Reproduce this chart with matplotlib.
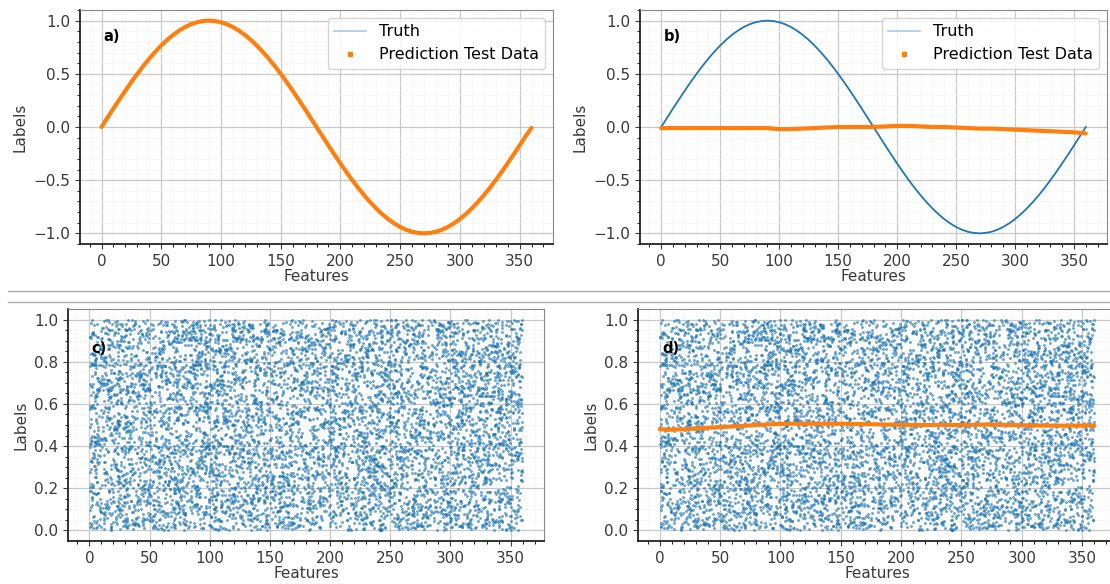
import numpy as np
import matplotlib.pyplot as plt
from matplotlib.lines import Line2D
from matplotlib.ticker import AutoMinorLocator

# feature axis (degrees)
feat_5 = np.arange(0, 361, 5)
feat_10 = np.arange(0, 361, 10)

# sin curve, every 5 degrees
half = [0.000, 0.087, 0.174, 0.259, 0.342, 0.423, 0.500, 0.574, 0.643, 0.707,
        0.766, 0.819, 0.866, 0.906, 0.940, 0.966, 0.985, 0.996, 1.000,
        0.996, 0.985, 0.966, 0.940, 0.906, 0.866, 0.819, 0.766, 0.707,
        0.643, 0.574, 0.500, 0.423, 0.342, 0.259, 0.174, 0.087]
truth = half + [-v for v in half] + [0.000]

# a) model fits the sine
pred_a = half + [-v for v in half] + [-0.010]

# b) model stays flat around zero
pred_b = [-0.01, -0.01, -0.01, -0.01, -0.01, -0.01, -0.01, -0.01, -0.01, -0.01,
          -0.02, -0.02, -0.015, -0.01, -0.005, 0.0, 0.0, 0.0, 0.0,
          0.005, 0.01, 0.01, 0.005, 0.0, 0.0, -0.005, -0.01, -0.015,
          -0.015, -0.02, -0.025, -0.03, -0.035, -0.04, -0.045, -0.05, -0.06]

# d) model predicts the mean of the noise
pred_d = [0.480, 0.478, 0.480, 0.483, 0.487, 0.490, 0.493, 0.496, 0.500, 0.503,
          0.505, 0.506, 0.506, 0.506, 0.506, 0.506, 0.505, 0.504, 0.503,
          0.502, 0.501, 0.500, 0.500, 0.500, 0.500, 0.500, 0.501, 0.502,
          0.501, 0.500, 0.499, 0.498, 0.497, 0.497, 0.497, 0.497, 0.497]

# c), d) labels are uniform noise in [0, 1]
n_noise = 7000
rng = np.random.default_rng(7)
noise_x = rng.uniform(0, 360, n_noise)
noise_y = rng.uniform(0, 1, n_noise)

W, H = 1110, 584
fig = plt.figure(figsize=(W / 100, H / 100), dpi=100)


def box(l, t, r, b):
    return [l / W, 1 - b / H, (r - l) / W, (b - t) / H]


def style(ax, tag, ty):
    ax.xaxis.set_minor_locator(AutoMinorLocator())
    ax.yaxis.set_minor_locator(AutoMinorLocator())
    ax.grid(which='major', color='#c8c8c8', lw=0.9)
    ax.grid(which='minor', color='#f5f5f5', lw=0.6)
    ax.set_axisbelow(True)
    for s in ['left', 'bottom']:
        ax.spines[s].set_color('#222222')
        ax.spines[s].set_linewidth(1.3)
    for s in ['top', 'right']:
        ax.spines[s].set_color('#888888')
    ax.tick_params(labelsize=11, colors='#3a3a3a')
    ax.set_xlabel('Features', fontsize=11, color='#3a3a3a', labelpad=0)
    ax.set_ylabel('Labels', fontsize=11, color='#3a3a3a')
    ax.text(0.05, ty, tag, transform=ax.transAxes, fontsize=10.5,
            fontweight='bold', va='top')


handles = [Line2D([], [], color='#a9c9e6', lw=1.2),
           Line2D([], [], ls='', marker='s', ms=3, color='C1')]
names = ['Truth', 'Prediction Test Data']

ax_a = fig.add_axes(box(80, 10, 553, 244))
ax_a.plot(feat_5, truth, color='C0', lw=1.3)
ax_a.plot(feat_5, pred_a, color='C1', lw=3.0, solid_capstyle='round')
style(ax_a, 'a)', 0.92)
ax_a.legend(handles, names, loc='upper right', fontsize=11.5)

ax_b = fig.add_axes(box(640, 10, 1107, 244))
ax_b.plot(feat_5, truth, color='C0', lw=1.3)
ax_b.plot(feat_10, pred_b, color='C1', lw=3.0, solid_capstyle='round')
style(ax_b, 'b)', 0.92)
ax_b.legend(handles, names, loc='upper right', fontsize=11.5)

ax_c = fig.add_axes(box(68, 309, 544, 541))
ax_c.scatter(noise_x, noise_y, s=4.5, color='C0', alpha=0.65, lw=0)
style(ax_c, 'c)', 0.86)

ax_d = fig.add_axes(box(638, 309, 1116, 541))
ax_d.scatter(noise_x, noise_y, s=4.5, color='C0', alpha=0.65, lw=0)
ax_d.plot(feat_10, pred_d, color='C1', lw=3.0, solid_capstyle='round')
style(ax_d, 'd)', 0.86)

# separators between the two rows
for yy in [291, 302]:
    fig.add_artist(Line2D([8 / W, 1], [1 - yy / H] * 2, color='#aaaaaa', lw=1))

fig.savefig('out.png', dpi=100)
